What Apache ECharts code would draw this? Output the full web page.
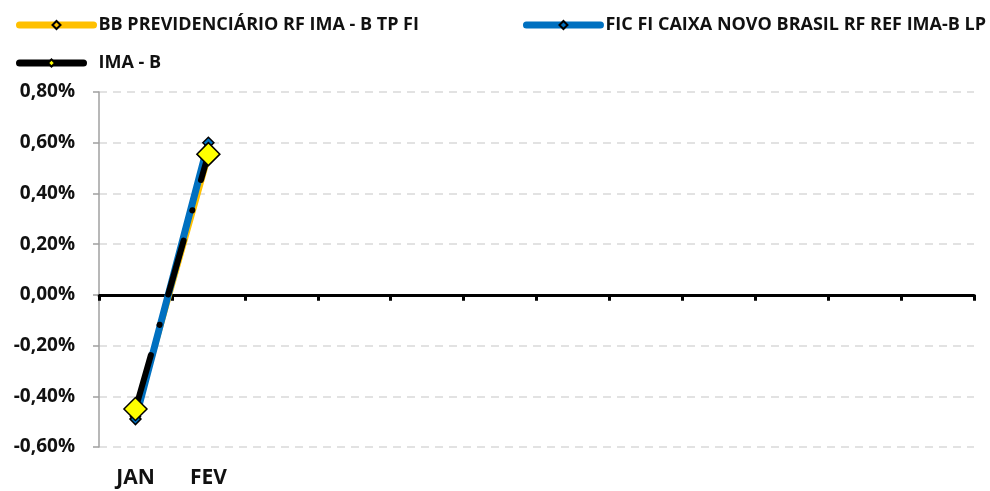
<!DOCTYPE html>
<html><head><meta charset="utf-8">
<script src="https://cdn.jsdelivr.net/npm/echarts@6/dist/echarts.min.js"></script>
<style>html,body{margin:0;padding:0;background:#fff}#c{width:990px;height:491px}</style>
</head><body><div id="c"></div>
<script>
const categories = ['JAN','FEV','','','','','','','','','',''];
const bbName = 'BB PREVIDENCIÁRIO RF IMA - B TP FI';
const ficName = 'FIC FI CAIXA NOVO BRASIL RF REF IMA-B LP';
const imaName = 'IMA - B';
const bbValues = [-0.48, 0.54];
const ficValues = [-0.49, 0.60];
const imaValues = [-0.45, 0.555];
const yMin = -0.6, yMax = 0.8, yStep = 0.2;

const FONT = 'Open Sans';
const chart = echarts.init(document.getElementById('c'));
const fmt = v => (Math.round(v*100)/100).toFixed(2).replace('.', ',') + '%';
chart.setOption({
  animation: false,
  textStyle: {fontFamily: FONT},
  legend: [
    {
      data: [bbName, ficName], left: 16, top: 16, padding: 0,
      itemWidth: 74, itemHeight: 10, itemGap: 104,
      lineStyle: {width: 7},
      textStyle: {fontFamily: FONT, fontWeight: 'bold', fontSize: 18, color: '#111'}
    },
    {
      data: [imaName], left: 16, top: 54, padding: 0,
      itemWidth: 64, itemHeight: 9,
      lineStyle: {width: 7, type: 'solid'},
      textStyle: {fontFamily: FONT, fontWeight: 'bold', fontSize: 18, color: '#111', padding: [0,0,0,10]}
    }
  ],
  grid: {left: 99, right: 16, top: 92, bottom: 44, containLabel: false},
  xAxis: [
    {
      type: 'category', data: categories, position: 'bottom',
      axisLine: {show: false, onZero: false}, axisTick: {show: false},
      axisLabel: {fontFamily: FONT, fontWeight: 'bold', fontSize: 21, color: '#111', margin: 21},
      splitLine: {show: false}
    },
    {
      type: 'category', data: categories, position: 'bottom',
      axisLine: {onZero: true, onZeroAxisIndex: 0, lineStyle: {color: '#000', width: 3}},
      axisTick: {show: true, length: 6, lineStyle: {color: '#000', width: 3}},
      axisLabel: {show: false}, splitLine: {show: false}
    }
  ],
  yAxis: {
    type: 'value', min: yMin, max: yMax, interval: yStep,
    axisLine: {show: true, lineStyle: {color: '#a0a0a0', width: 1.5}},
    axisTick: {show: true, inside: false, length: 6, lineStyle: {color: '#a0a0a0', width: 1.5}},
    axisLabel: {formatter: fmt, fontFamily: FONT, fontWeight: 'bold', fontSize: 19, color: '#111', margin: 24},
    splitLine: {show: true, lineStyle: {color: '#d9d9d9', width: 1.5, type: [8, 6]}}
  },
  series: [
    {
      name: bbName, type: 'line', data: bbValues, xAxisIndex: 0,
      lineStyle: {color: '#ffc000', width: 5, cap: 'round'},
      itemStyle: {color: '#ffc000', borderColor: '#000', borderWidth: 1.5},
      symbol: 'diamond', symbolSize: 10, showSymbol: true, z: 2
    },
    {
      name: ficName, type: 'line', data: ficValues, xAxisIndex: 0,
      lineStyle: {color: '#0070c0', width: 7, cap: 'round'},
      itemStyle: {color: '#0070c0', borderColor: '#000', borderWidth: 1.5},
      symbol: 'diamond', symbolSize: 11, z: 3
    },
    {
      name: imaName, type: 'line', data: imaValues, xAxisIndex: 0,
      lineStyle: {color: '#000', width: 6, cap: 'round', type: [56, 31.5, 0.1, 31.5]},
      itemStyle: {color: '#ffff00', borderColor: '#000', borderWidth: 1.5},
      symbol: 'diamond', symbolSize: 23, z: 4
    }
  ]
});
</script></body></html>
